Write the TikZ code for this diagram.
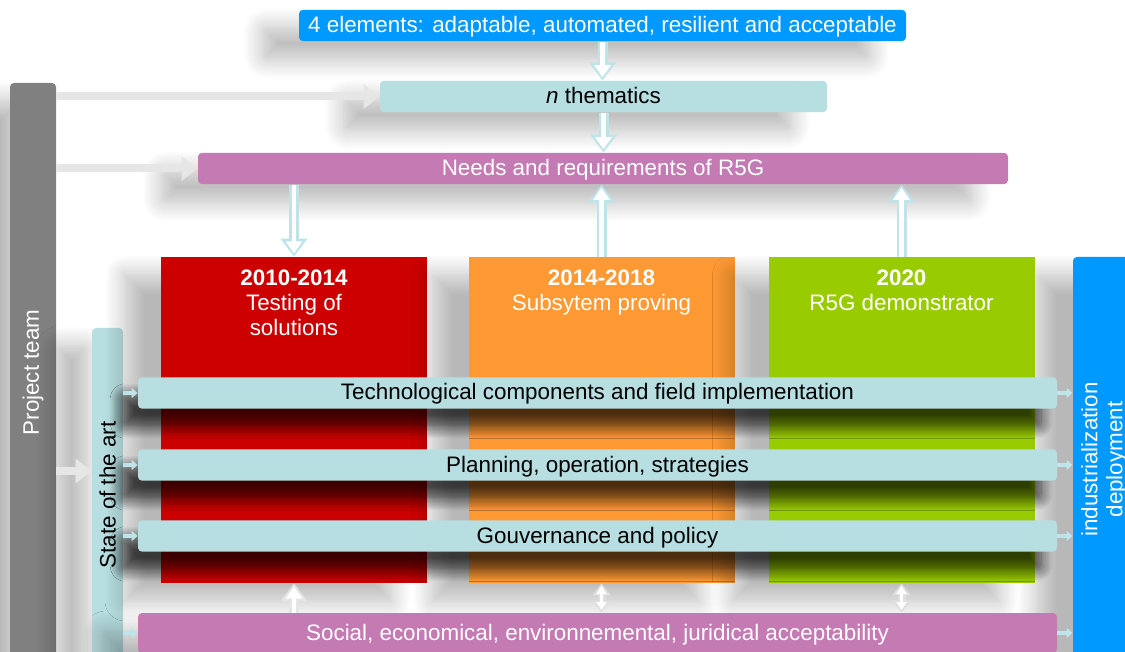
\documentclass[tikz,border=0pt]{standalone}
\usepackage{fontspec}
\setmainfont{Liberation Sans}
\usetikzlibrary{arrows.meta, shadows.blur}

\definecolor{topblue}{RGB}{0,153,255}
\definecolor{paleteal}{RGB}{183,222,224}
\definecolor{mauve}{RGB}{196,123,180}
\definecolor{teamgray}{RGB}{128,128,128}
\definecolor{periodred}{RGB}{204,0,0}
\definecolor{periodorange}{RGB}{255,153,51}
\definecolor{periodgreen}{RGB}{153,204,0}
\definecolor{arrowteal}{RGB}{190,228,234}
\definecolor{feedgray}{RGB}{230,230,230}

\begin{document}
\begin{tikzpicture}[x=0.5pt, y=-0.5pt,
    shade box/.style={blur shadow={shadow xshift=-18pt, shadow yshift=-9pt, shadow blur radius=10pt, shadow blur steps=12, shadow opacity=28}},
    bar/.style={rectangle, rounded corners=2pt, minimum height=14.5pt, text centered, text height=8pt, text depth=1pt, font=\fontsize{11.2}{12.5}\selectfont, shade box},
    row/.style={bar, minimum width=459.5pt, minimum height=15pt, blur shadow={shadow xshift=-8pt, shadow yshift=-9pt, shadow blur radius=6pt, shadow blur steps=10, shadow opacity=45}},
    post/.style={rectangle, rounded corners=2pt, rotate=90, align=center, font=\fontsize{11.2}{12.5}\selectfont, shade box},
    period/.style={rectangle, minimum width=133pt, minimum height=163pt, shade box, label={[anchor=north, align=center, text=white, font=\fontsize{11.2}{12.5}\selectfont, yshift=-3pt]north:#1}},
    hollow/.style={line width=5pt, draw=#1, -{Triangle[length=9pt, width=13pt]}, postaction={draw=white, line width=2.4pt, -{Triangle[length=6pt, width=8pt]}, shorten >=1.6pt}},
    hollow/.default=arrowteal,
    twoway/.style={line width=4pt, draw=#1, {Triangle[length=6pt, width=9pt]}-{Triangle[length=6pt, width=9pt]}, postaction={draw=white, line width=1.8pt, {Triangle[length=4pt, width=5pt]}-{Triangle[length=4pt, width=5pt]}, shorten >=1.3pt, shorten <=1.3pt}},
    feed/.style={line width=4pt, draw=feedgray, -{Triangle[length=8pt, width=12pt]}},
    tick/.style={line width=2pt, draw=arrowteal, -{Triangle[length=3pt, width=5pt]}}
]

\useasboundingbox (0,0) rectangle (1125,652);

% Top chain
\node[bar, fill=topblue, text=white, minimum width=303.5pt] (elem) at (602.5,25.5) {4 elements: adaptable, automated, resilient and acceptable};
\node[bar, fill=paleteal, minimum width=223.5pt] (them) at (603.5,96.5) {\textit{n} thematics};
\node[bar, fill=mauve, text=white, minimum width=405pt] (needs) at (603,168.5) {Needs and requirements of R5G};

% Side posts
\node[post, fill=teamgray, text=white, minimum width=289.5pt, minimum height=23pt] (team) at (33,372.5) {Project team};
\node[post, fill=paleteal, minimum width=167pt, minimum height=15.5pt] (sota) at (107.5,495) {State of the art};
\node[post, fill=topblue, text=white, minimum width=202.5pt, minimum height=31pt] (indus) at (1104,459.5) {industrialization\\deployment};

% Periods
\node[period={\textbf{2010-2014}\\Testing of\\solutions}, fill=periodred] (red) at (294,420) {};
\node[period={\textbf{2014-2018}\\Subsytem proving}, fill=periodorange] (orange) at (601.5,420) {};
\node[period={\textbf{2020}\\R5G demonstrator}, fill=periodgreen] (green) at (901.5,420) {};

% Cross rows
\node[row, fill=paleteal] (tech) at (597.5,393) {Technological components and field implementation};
\node[row, fill=paleteal] (plan) at (597.5,465) {Planning, operation, strategies};
\node[row, fill=paleteal] (gouv) at (597.5,536) {Gouvernance and policy};
\node[bar, fill=mauve, text=white, minimum width=459.5pt, minimum height=20pt] (social) at (597.5,633) {Social, economical, environnemental, juridical acceptability};

% Vertical arrows
\draw[hollow] (elem.south) -- (elem.south |- them.north);
\draw[hollow] (them.south) -- (them.south |- needs.north);
\draw[hollow] (needs.south -| red.north) -- (red.north);
\draw[hollow] (orange.north) -- (orange.north |- needs.south);
\draw[hollow] (green.north) -- (green.north |- needs.south);

% Project team arrows
\draw[feed] (team.south |- them.west) -- (them.west);
\draw[feed] (team.south |- needs.west) -- (needs.west);
\draw[feed] ([yshift=12pt]sota.north -| team.south) -- ([yshift=12pt]sota.north);

% State of the art to rows, rows to deployment
\foreach \row in {tech, plan, gouv, social} {
    \draw[tick] (sota.south |- \row.west) -- (\row.west);
    \draw[tick] (\row.east) -- (\row.east -| indus.north);
}

% Acceptability links
\draw[hollow=gray!20] (social.north -| red.south) -- (red.south);
\draw[twoway=gray!25] (social.north -| orange.south) -- (orange.south);
\draw[twoway=gray!25] (social.north -| green.south) -- (green.south);

\end{tikzpicture}
\end{document}
